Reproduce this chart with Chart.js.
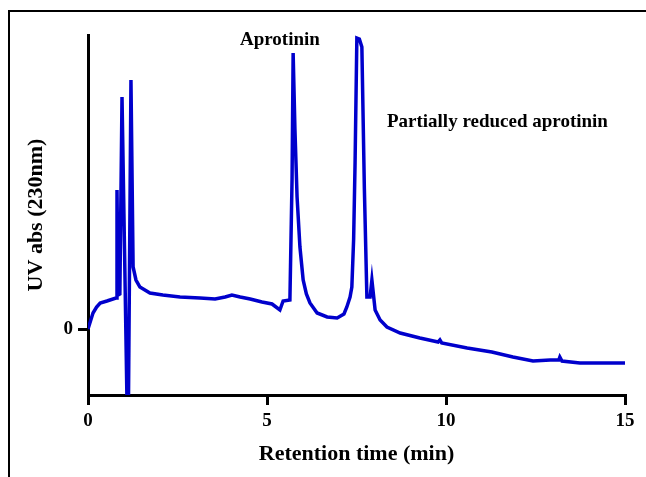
<!DOCTYPE html>
<html>
<head>
<meta charset="utf-8">
<script src="https://cdn.jsdelivr.net/npm/chart.js@4"></script>
<style>
  html, body { margin: 0; padding: 0; background: #fff; }
  #wrap { width: 646px; height: 477px; }
</style>
</head>
<body>
<div id="wrap"><canvas id="myChart" width="646" height="477"></canvas></div>
<script>
// Chromatogram values
const retentionTime = [0, 0.07, 0.14, 0.24, 0.34, 0.53, 0.78, 0.79, 0.81, 0.84, 0.89, 0.95, 1.02, 1.09, 1.13, 1.20, 1.26, 1.34, 1.45, 1.73,
  2.09, 2.57, 3.13, 3.55, 3.83, 4.02, 4.25, 4.53, 4.86, 5.14, 5.36, 5.45, 5.64, 5.70, 5.73, 5.78, 5.84, 5.92, 6.01, 6.10,
  6.20, 6.40, 6.68, 6.96, 7.15, 7.23, 7.32, 7.37, 7.42, 7.46, 7.51, 7.58, 7.65, 7.72, 7.79, 7.88, 7.93, 8.02, 8.16, 8.35,
  8.72, 9.27, 9.78, 9.83, 9.88, 10.59, 11.28, 11.87, 12.43, 12.91, 13.15, 13.18, 13.24, 13.74, 15.0];
const uvAbs = [0, 0.8, 1.6, 2.2, 2.6, 2.8, 3.1, 3.1, 13.9, 3.4, 3.5, 23.2, 8, -7.5, -7.5, 24.9, 6.2, 4.9, 4.2, 3.6,
  3.4, 3.2, 3.1, 3.0, 3.2, 3.4, 3.2, 3.0, 2.7, 2.5, 1.9, 2.8, 2.9, 15, 27.6, 20, 13.2, 8.2, 4.9, 3.5,
  2.6, 1.6, 1.2, 1.1, 1.5, 2.2, 3.2, 4.2, 9, 16.6, 29.1, 29.0, 28.2, 14, 3.2, 3.2, 4.9, 1.9, 0.9, 0.2,
  -0.4, -0.9, -1.3, -1.1, -1.4, -1.9, -2.3, -2.8, -3.2, -3.1, -3.1, -2.8, -3.2, -3.4, -3.4];
const xTicks = [0, 5, 10, 15];
const yTicks = [0];
const peakLabels = ['Aprotinin', 'Partially reduced aprotinin'];

const points = retentionTime.map((t, i) => ({ x: t, y: uvAbs[i] }));
const serif = '"Liberation Serif", "Times New Roman", serif';

// frame lines and peak names
const extras = {
  id: 'extras',
  beforeDraw(chart) {
    const c = chart.ctx;
    c.save();
    c.fillStyle = '#fff';
    c.fillRect(0, 0, chart.width, chart.height);
    c.strokeStyle = '#000';
    c.lineWidth = 2;
    c.beginPath();
    c.moveTo(9, chart.height);
    c.lineTo(9, 11);
    c.lineTo(chart.width, 11);
    c.stroke();
    c.restore();
  },
  afterDraw(chart) {
    const c = chart.ctx;
    const xs = chart.scales.x, ys = chart.scales.y;
    c.save();
    c.fillStyle = '#000';
    c.font = 'bold 19px ' + serif;
    c.textBaseline = 'middle';
    c.textAlign = 'center';
    c.fillText(peakLabels[0], xs.getPixelForValue(5.36), ys.getPixelForValue(28.9));
    c.textAlign = 'left';
    c.fillText(peakLabels[1], xs.getPixelForValue(8.35), ys.getPixelForValue(20.7));
    c.restore();
  }
};

const ctx = document.getElementById('myChart').getContext('2d');
new Chart(ctx, {
  type: 'line',
  data: {
    datasets: [{
      data: points,
      borderColor: '#0000cc',
      borderWidth: 3.5,
      pointRadius: 0,
      tension: 0,
      fill: false
    }]
  },
  options: {
    responsive: false,
    animation: false,
    layout: { padding: { left: 12, top: 35, right: 21, bottom: 0 } },
    plugins: { legend: { display: false }, tooltip: { enabled: false } },
    scales: {
      x: {
        type: 'linear',
        min: 0,
        max: 15,
        afterBuildTicks: s => { s.ticks = xTicks.map(v => ({ value: v })); },
        afterFit: s => { s.height = 82; },
        border: { display: true, color: '#000', width: 3 },
        grid: { drawOnChartArea: false, drawTicks: true, tickLength: 10, lineWidth: 3, color: '#000' },
        ticks: { color: '#000', padding: 5, font: { family: serif, size: 19, weight: 'bold' } },
        title: {
          display: true,
          text: 'Retention time (min)',
          color: '#000',
          font: { family: serif, size: 22, weight: 'bold' },
          padding: { top: 0, bottom: 9 }
        }
      },
      y: {
        min: -6.6,
        max: 29.4,
        afterBuildTicks: s => { s.ticks = yTicks.map(v => ({ value: v })); },
        afterFit: s => { s.width = 76; },
        border: { display: true, color: '#000', width: 3 },
        grid: { drawOnChartArea: false, drawTicks: true, tickLength: 10, lineWidth: 3, color: '#000' },
        ticks: { color: '#000', padding: 5, font: { family: serif, size: 19, weight: 'bold' } },
        title: {
          display: true,
          text: 'UV abs (230nm)',
          color: '#000',
          font: { family: serif, size: 22, weight: 'bold' },
          padding: { top: 11, bottom: 0 }
        }
      }
    }
  },
  plugins: [extras]
});
</script>
</body>
</html>
